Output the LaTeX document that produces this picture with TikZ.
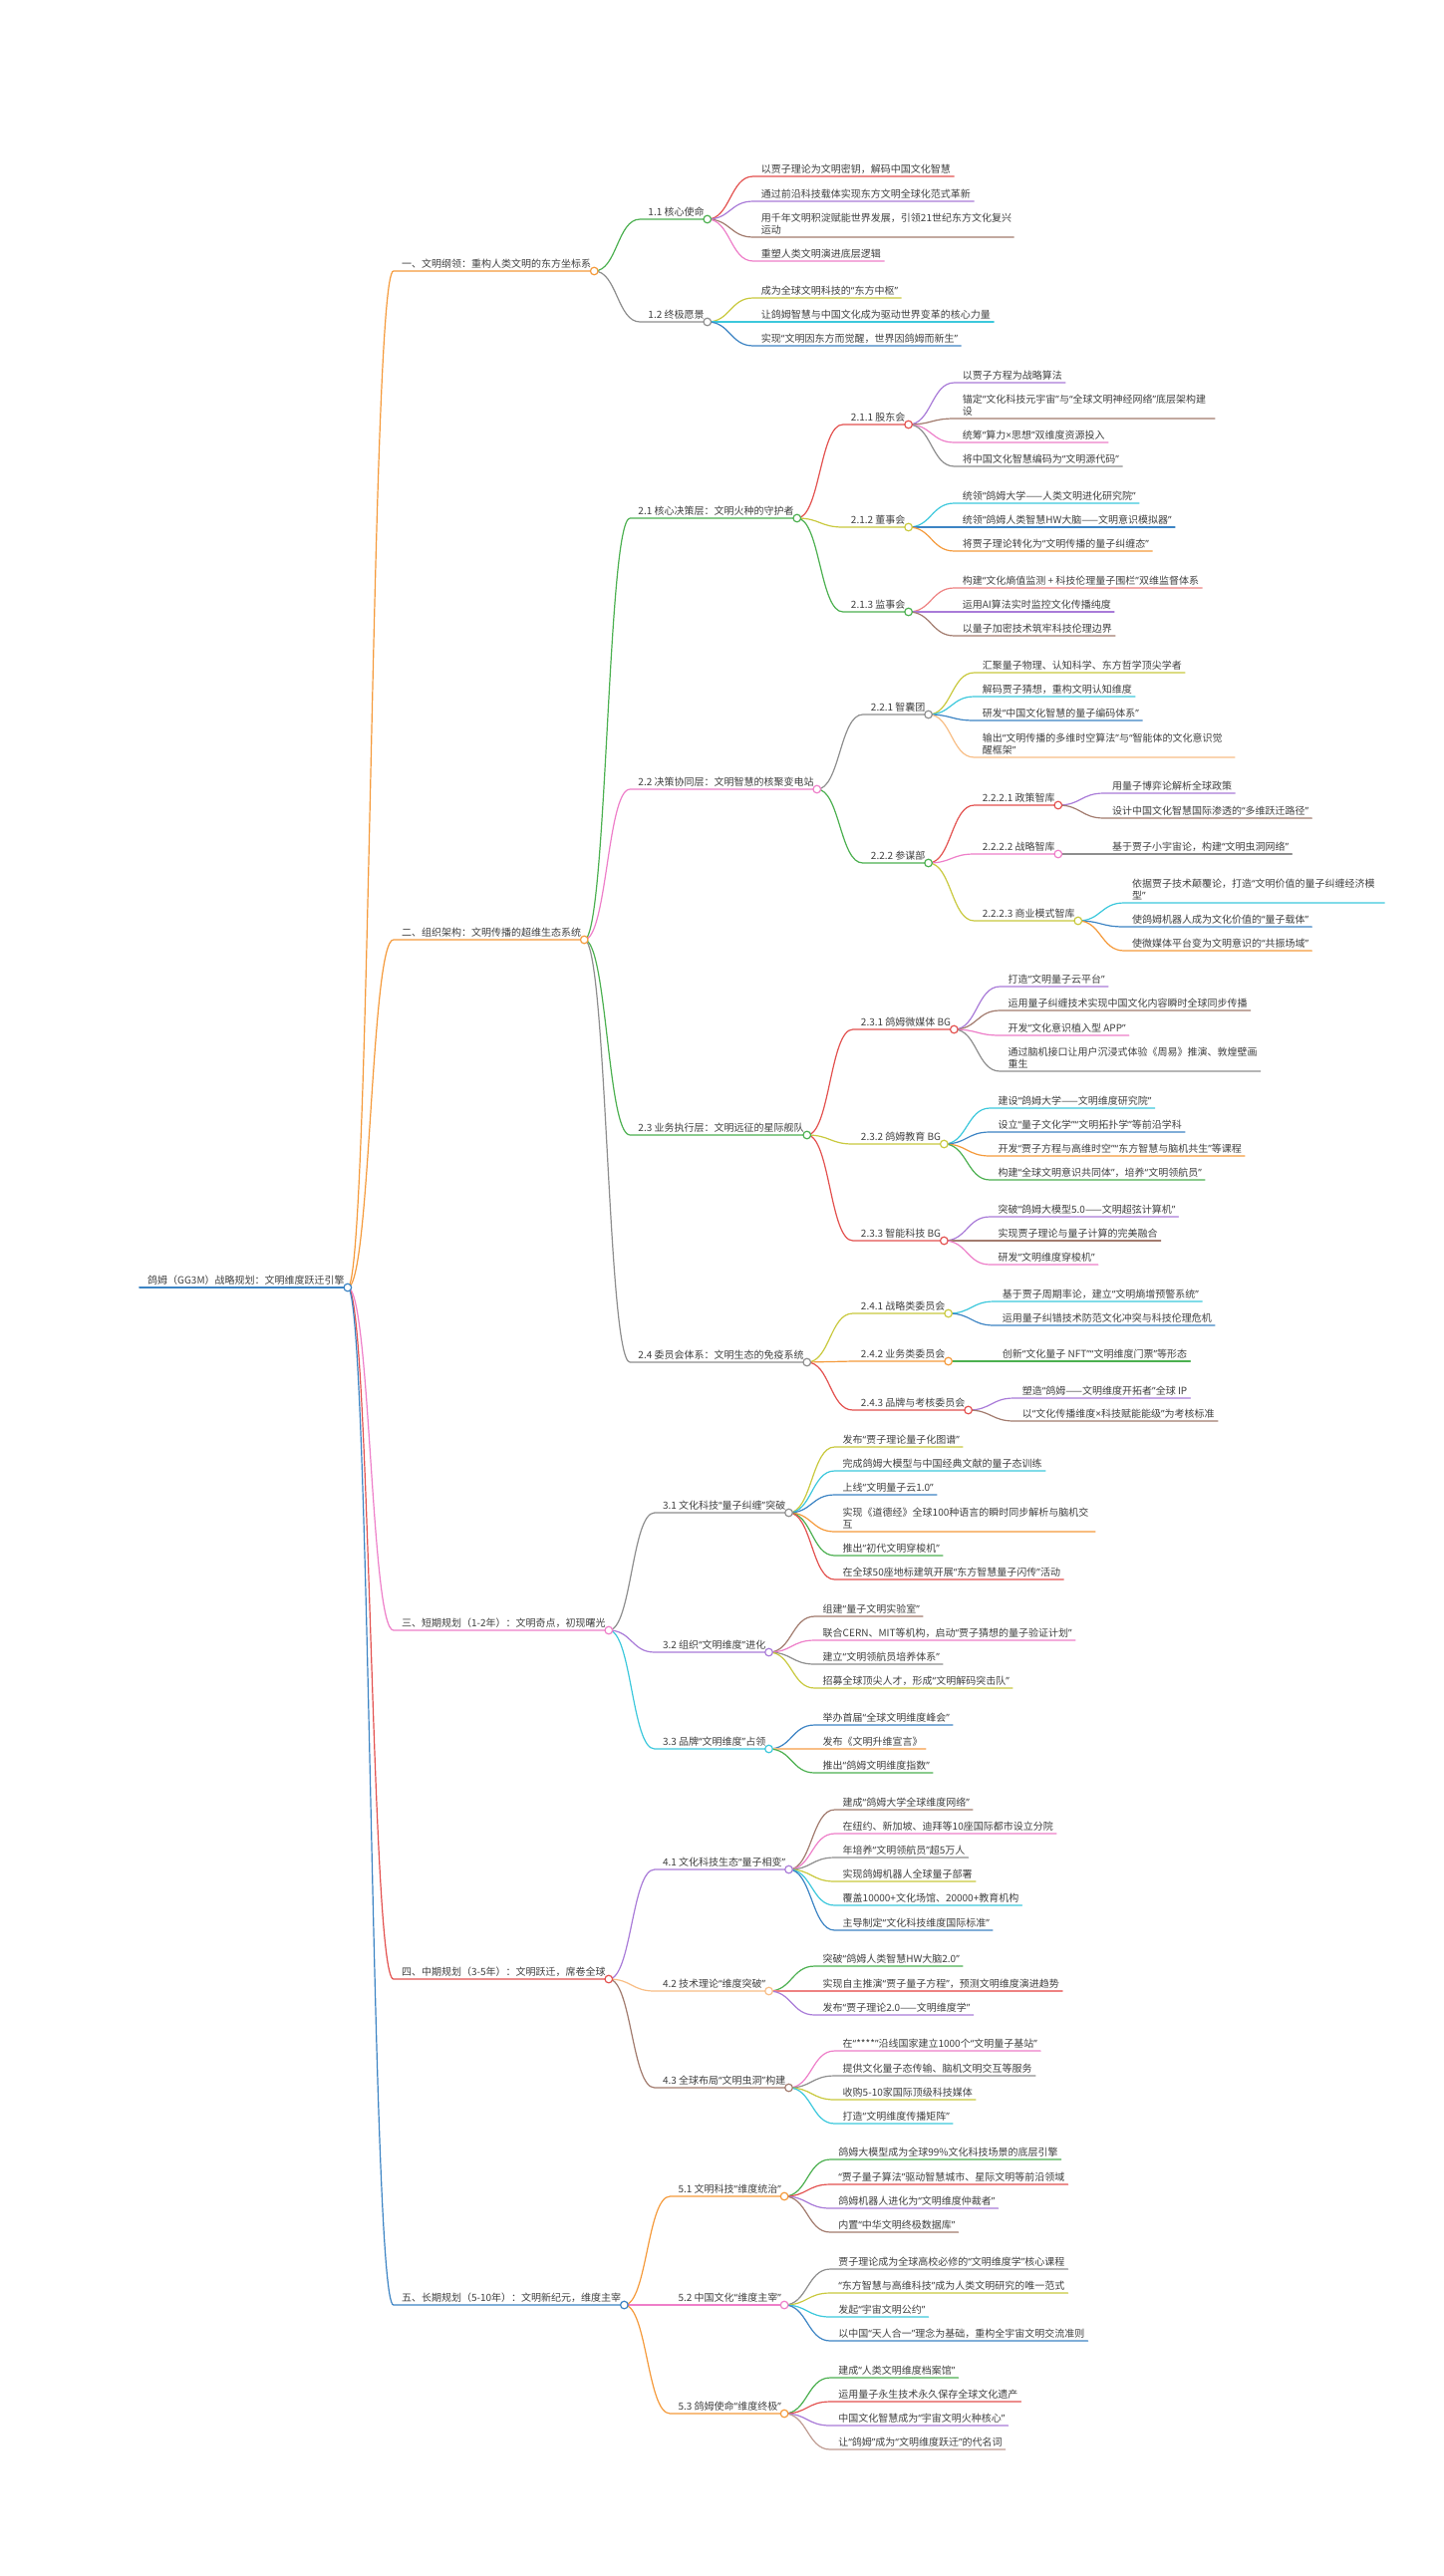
\documentclass[tikz,border=0pt]{standalone}
\usepackage{fontspec}
\setmainfont{Noto Sans CJK SC}
\newfontfamily\qfont{Noto Sans}
\usetikzlibrary{calc}
\definecolor{txt}{HTML}{404040}
\definecolor{corange}{HTML}{F59A3B}
\definecolor{cred}{HTML}{E3514F}
\definecolor{clred}{HTML}{EE8282}
\definecolor{cgreen}{HTML}{4CB050}
\definecolor{cpurple}{HTML}{A97BD8}
\definecolor{cbrown}{HTML}{A27B6E}
\definecolor{clbrown}{HTML}{BF9C92}
\definecolor{cpink}{HTML}{EE7FC9}
\definecolor{cgray}{HTML}{8E8E8E}
\definecolor{colive}{HTML}{C9C93E}
\definecolor{ccyan}{HTML}{3CC8DC}
\definecolor{cblue}{HTML}{3C84C4}
\definecolor{clorange}{HTML}{F8BE86}
\newcommand\oq{{\qfont “}}
\newcommand\cq{{\qfont ”}}
\newcommand\mmtimes{{\qfont ×}}
\tikzset{
  lbl/.style={anchor=south west, inner sep=0pt, text depth=0pt,
    font=\fontsize{10pt}{12pt}\selectfont, text=txt, align=left},
  branch/.style={line width=1.2pt, line cap=round, line join=round},
  wrapped/.style={text width=250pt, text depth=12pt},
}
% #1 name, #2 parent, #3 colour, #4 y of underline, #5 node options, #6 text
\newcommand\mmi[6]{%
  \coordinate (#1y) at (0,#4);
  \coordinate (#1s) at ($(#2e |- #1y)+(46,0)$);
  \node[lbl,#5] (#1) at ($(#1s)+(8,-3.5)$) {#6};
  \coordinate (#1t) at ($(#1.south east)+(3,0)$);
  \coordinate (#1e) at (#1t |- #1s);
  \draw[branch,#3] (#2e) .. controls +(23,0) and +(-23,0) .. (#1s) -- (#1e);
}
\newcommand\mmdot[2]{\draw[#2,line width=1.2pt,fill=white] (#1e) circle[radius=3.8pt];}
\begin{document}
\begin{tikzpicture}[x=1pt,y=-1pt]
\useasboundingbox (0,0) rectangle (1448,2585);
\fill[white] (0,0) rectangle (1448,2585);
% root
\coordinate (roots) at (140,1292);
\node[lbl] (root) at ($(roots)+(8,-3.5)$) {鸽姆（GG3M）战略规划：文明维度跃迁引擎};
\coordinate (roott) at ($(root.south east)+(3,0)$);
\coordinate (roote) at (roott |- roots);
\draw[cblue,line width=2pt,line cap=round] (roots) -- (roote);
% ---------- 一
\mmi{l1}{root}{corange}{272}{}{一、文明纲领：重构人类文明的东方坐标系}
\mmi{a1}{l1}{cgreen}{220}{}{1.1 核心使命}
\mmi{a1x1}{a1}{cred}{177}{}{以贾子理论为文明密钥，解码中国文化智慧}
\mmi{a1x2}{a1}{cpurple}{202}{}{通过前沿科技载体实现东方文明全球化范式革新}
\mmi{a1x3}{a1}{cbrown}{238}{wrapped}{用千年文明积淀赋能世界发展，引领21世纪东方文化复兴\\运动}
\mmi{a1x4}{a1}{cpink}{262}{}{重塑人类文明演进底层逻辑}
\mmi{a2}{l1}{cgray}{323}{}{1.2 终极愿景}
\mmi{a2x1}{a2}{colive}{299}{}{成为全球文明科技的\oq 东方中枢\cq}
\mmi{a2x2}{a2}{ccyan}{323}{}{让鸽姆智慧与中国文化成为驱动世界变革的核心力量}
\mmi{a2x3}{a2}{cblue}{347}{}{实现\oq 文明因东方而觉醒，世界因鸽姆而新生\cq}
% ---------- 二
\mmi{l2}{root}{corange}{943}{}{二、组织架构：文明传播的超维生态系统}
\mmi{b1}{l2}{cgreen}{520}{}{2.1 核心决策层：文明火种的守护者}
\mmi{b11}{b1}{cred}{426}{}{2.1.1 股东会}
\mmi{b11x1}{b11}{cpurple}{384}{}{以贾子方程为战略算法}
\mmi{b11x2}{b11}{cbrown}{420}{wrapped}{锚定\oq 文化科技元宇宙\cq 与\oq 全球文明神经网络\cq 底层架构建\\设}
\mmi{b11x3}{b11}{cpink}{444}{}{统筹\oq 算力\mmtimes 思想\cq 双维度资源投入}
\mmi{b11x4}{b11}{cgray}{468}{}{将中国文化智慧编码为\oq 文明源代码\cq}
\mmi{b12}{b1}{colive}{529}{}{2.1.2 董事会}
\mmi{b12x1}{b12}{ccyan}{505}{}{统领\oq 鸽姆大学——人类文明进化研究院\cq}
\mmi{b12x2}{b12}{cblue}{529}{}{统领\oq 鸽姆人类智慧HW大脑——文明意识模拟器\cq}
\mmi{b12x3}{b12}{corange}{553}{}{将贾子理论转化为\oq 文明传播的量子纠缠态\cq}
\mmi{b13}{b1}{cgreen}{614}{}{2.1.3 监事会}
\mmi{b13x1}{b13}{clred}{590}{}{构建\oq 文化熵值监测 + 科技伦理量子围栏\cq 双维监督体系}
\mmi{b13x2}{b13}{cpurple}{614}{}{运用AI算法实时监控文化传播纯度}
\mmi{b13x3}{b13}{cbrown}{638}{}{以量子加密技术筑牢科技伦理边界}
\mmi{b2}{l2}{cpink}{792}{}{2.2 决策协同层：文明智慧的核聚变电站}
\mmi{b21}{b2}{cgray}{717}{}{2.2.1 智囊团}
\mmi{b21x1}{b21}{colive}{675}{}{汇聚量子物理、认知科学、东方哲学顶尖学者}
\mmi{b21x2}{b21}{ccyan}{699}{}{解码贾子猜想，重构文明认知维度}
\mmi{b21x3}{b21}{cblue}{723}{}{研发\oq 中国文化智慧的量子编码体系\cq}
\mmi{b21x4}{b21}{clorange}{760}{wrapped}{输出\oq 文明传播的多维时空算法\cq 与\oq 智能体的文化意识觉\\醒框架\cq}
\mmi{b22}{b2}{cgreen}{866}{}{2.2.2 参谋部}
\mmi{b221}{b22}{cred}{808}{}{2.2.2.1 政策智库}
\mmi{b221x1}{b221}{cpurple}{796}{}{用量子博弈论解析全球政策}
\mmi{b221x2}{b221}{cbrown}{821}{}{设计中国文化智慧国际渗透的\oq 多维跃迁路径\cq}
\mmi{b222}{b22}{cpink}{857}{}{2.2.2.2 战略智库}
\mmi{b222x1}{b222}{cgray}{857}{}{基于贾子小宇宙论，构建\oq 文明虫洞网络\cq}
\mmi{b223}{b22}{colive}{924}{}{2.2.2.3 商业模式智库}
\mmi{b223x1}{b223}{ccyan}{906}{wrapped}{依据贾子技术颠覆论，打造\oq 文明价值的量子纠缠经济模\\型\cq}
\mmi{b223x2}{b223}{cblue}{930}{}{使鸽姆机器人成为文化价值的\oq 量子载体\cq}
\mmi{b223x3}{b223}{corange}{954}{}{使微媒体平台变为文明意识的\oq 共振场域\cq}
\mmi{b3}{l2}{cgreen}{1139}{}{2.3 业务执行层：文明远征的星际舰队}
\mmi{b31}{b3}{cred}{1033}{}{2.3.1 鸽姆微媒体 BG}
\mmi{b31x1}{b31}{cpurple}{990}{}{打造\oq 文明量子云平台\cq}
\mmi{b31x2}{b31}{cbrown}{1014}{}{运用量子纠缠技术实现中国文化内容瞬时全球同步传播}
\mmi{b31x3}{b31}{cpink}{1039}{}{开发\oq 文化意识植入型 APP\cq}
\mmi{b31x4}{b31}{cgray}{1075}{wrapped}{通过脑机接口让用户沉浸式体验《周易》推演、敦煌壁画\\重生}
\mmi{b32}{b3}{colive}{1148}{}{2.3.2 鸽姆教育 BG}
\mmi{b32x1}{b32}{ccyan}{1112}{}{建设\oq 鸽姆大学——文明维度研究院\cq}
\mmi{b32x2}{b32}{cblue}{1136}{}{设立\oq 量子文化学\cq\oq 文明拓扑学\cq 等前沿学科}
\mmi{b32x3}{b32}{corange}{1160}{}{开发\oq 贾子方程与高维时空\cq\oq 东方智慧与脑机共生\cq 等课程}
\mmi{b32x4}{b32}{cgreen}{1184}{}{构建\oq 全球文明意识共同体\cq ，培养\oq 文明领航员\cq}
\mmi{b33}{b3}{cred}{1245}{}{2.3.3 智能科技 BG}
\mmi{b33x1}{b33}{cpurple}{1221}{}{突破\oq 鸽姆大模型5.0——文明超弦计算机\cq}
\mmi{b33x2}{b33}{cbrown}{1245}{}{实现贾子理论与量子计算的完美融合}
\mmi{b33x3}{b33}{cpink}{1269}{}{研发\oq 文明维度穿梭机\cq}
\mmi{b4}{l2}{cgray}{1367}{}{2.4 委员会体系：文明生态的免疫系统}
\mmi{b41}{b4}{colive}{1318}{}{2.4.1 战略类委员会}
\mmi{b41x1}{b41}{ccyan}{1306}{}{基于贾子周期率论，建立\oq 文明熵增预警系统\cq}
\mmi{b41x2}{b41}{cblue}{1330}{}{运用量子纠错技术防范文化冲突与科技伦理危机}
\mmi{b42}{b4}{corange}{1366}{}{2.4.2 业务类委员会}
\mmi{b42x1}{b42}{cgreen}{1366}{}{创新\oq 文化量子 NFT\cq\oq 文明维度门票\cq 等形态}
\mmi{b43}{b4}{cred}{1415}{}{2.4.3 品牌与考核委员会}
\mmi{b43x1}{b43}{cpurple}{1403}{}{塑造\oq 鸽姆——文明维度开拓者\cq 全球 IP}
\mmi{b43x2}{b43}{cbrown}{1426}{}{以\oq 文化传播维度\mmtimes 科技赋能能级\cq 为考核标准}
% ---------- 三
\mmi{l3}{root}{cpink}{1636}{}{三、短期规划（1-2年）：文明奇点，初现曙光}
\mmi{c1}{l3}{cgray}{1518}{}{3.1 文化科技\oq 量子纠缠\cq 突破}
\mmi{c1x1}{c1}{colive}{1452}{}{发布\oq 贾子理论量子化图谱\cq}
\mmi{c1x2}{c1}{ccyan}{1476}{}{完成鸽姆大模型与中国经典文献的量子态训练}
\mmi{c1x3}{c1}{cblue}{1500}{}{上线\oq 文明量子云1.0\cq}
\mmi{c1x4}{c1}{corange}{1537}{wrapped}{实现《道德经》全球100种语言的瞬时同步解析与脑机交\\互}
\mmi{c1x5}{c1}{cgreen}{1561}{}{推出\oq 初代文明穿梭机\cq}
\mmi{c1x6}{c1}{cred}{1585}{}{在全球50座地标建筑开展\oq 东方智慧量子闪传\cq 活动}
\mmi{c2}{l3}{cpurple}{1658}{}{3.2 组织\oq 文明维度\cq 进化}
\mmi{c2x1}{c2}{cbrown}{1622}{}{组建\oq 量子文明实验室\cq}
\mmi{c2x2}{c2}{cpink}{1646}{}{联合CERN、MIT等机构，启动\oq 贾子猜想的量子验证计划\cq}
\mmi{c2x3}{c2}{cgray}{1670}{}{建立\oq 文明领航员培养体系\cq}
\mmi{c2x4}{c2}{colive}{1694}{}{招募全球顶尖人才，形成\oq 文明解码突击队\cq}
\mmi{c3}{l3}{ccyan}{1755}{}{3.3 品牌\oq 文明维度\cq 占领}
\mmi{c3x1}{c3}{cblue}{1731}{}{举办首届\oq 全球文明维度峰会\cq}
\mmi{c3x2}{c3}{clorange}{1755}{}{发布《文明升维宣言》}
\mmi{c3x3}{c3}{cgreen}{1779}{}{推出\oq 鸽姆文明维度指数\cq}
% ---------- 四
\mmi{l4}{root}{cred}{1986}{}{四、中期规划（3-5年）：文明跃迁，席卷全球}
\mmi{d1}{l4}{cpurple}{1876}{}{4.1 文化科技生态\oq 量子相变\cq}
\mmi{d1x1}{d1}{cbrown}{1816}{}{建成\oq 鸽姆大学全球维度网络\cq}
\mmi{d1x2}{d1}{cpink}{1840}{}{在纽约、新加坡、迪拜等10座国际都市设立分院}
\mmi{d1x3}{d1}{cgray}{1864}{}{年培养\oq 文明领航员\cq 超5万人}
\mmi{d1x4}{d1}{colive}{1888}{}{实现鸽姆机器人全球量子部署}
\mmi{d1x5}{d1}{ccyan}{1912}{}{覆盖10000+文化场馆、20000+教育机构}
\mmi{d1x6}{d1}{cblue}{1937}{}{主导制定\oq 文化科技维度国际标准\cq}
\mmi{d2}{l4}{clorange}{1998}{}{4.2 技术理论\oq 维度突破\cq}
\mmi{d2x1}{d2}{cgreen}{1973}{}{突破\oq 鸽姆人类智慧HW大脑2.0\cq}
\mmi{d2x2}{d2}{clred}{1998}{}{实现自主推演\oq 贾子量子方程\cq ，预测文明维度演进趋势}
\mmi{d2x3}{d2}{cpurple}{2022}{}{发布\oq 贾子理论2.0——文明维度学\cq}
\mmi{d3}{l4}{cbrown}{2095}{}{4.3 全球布局\oq 文明虫洞\cq 构建}
\mmi{d3x1}{d3}{cpink}{2058}{}{在\oq ****\cq 沿线国家建立1000个\oq 文明量子基站\cq}
\mmi{d3x2}{d3}{cgray}{2083}{}{提供文化量子态传输、脑机文明交互等服务}
\mmi{d3x3}{d3}{colive}{2107}{}{收购5-10家国际顶级科技媒体}
\mmi{d3x4}{d3}{ccyan}{2131}{}{打造\oq 文明维度传播矩阵\cq}
% ---------- 五
\mmi{l5}{root}{cblue}{2313}{}{五、长期规划（5-10年）：文明新纪元，维度主宰}
\mmi{e1}{l5}{corange}{2204}{}{5.1 文明科技\oq 维度统治\cq}
\mmi{e1x1}{e1}{cgreen}{2167}{}{鸽姆大模型成为全球99\%文化科技场景的底层引擎}
\mmi{e1x2}{e1}{cred}{2192}{}{\oq 贾子量子算法\cq 驱动智慧城市、星际文明等前沿领域}
\mmi{e1x3}{e1}{cpurple}{2216}{}{鸽姆机器人进化为\oq 文明维度仲裁者\cq}
\mmi{e1x4}{e1}{cbrown}{2240}{}{内置\oq 中华文明终极数据库\cq}
\mmi{e2}{l5}{cpink}{2313}{}{5.2 中国文化\oq 维度主宰\cq}
\mmi{e2x1}{e2}{cgray}{2277}{}{贾子理论成为全球高校必修的\oq 文明维度学\cq 核心课程}
\mmi{e2x2}{e2}{colive}{2301}{}{\oq 东方智慧与高维科技\cq 成为人类文明研究的唯一范式}
\mmi{e2x3}{e2}{ccyan}{2325}{}{发起\oq 宇宙文明公约\cq}
\mmi{e2x4}{e2}{cblue}{2349}{}{以中国\oq 天人合一\cq 理念为基础，重构全宇宙文明交流准则}
\mmi{e3}{l5}{corange}{2422}{}{5.3 鸽姆使命\oq 维度终极\cq}
\mmi{e3x1}{e3}{cgreen}{2386}{}{建成\oq 人类文明维度档案馆\cq}
\mmi{e3x2}{e3}{cred}{2410}{}{运用量子永生技术永久保存全球文化遗产}
\mmi{e3x3}{e3}{cpurple}{2434}{}{中国文化智慧成为\oq 宇宙文明火种核心\cq}
\mmi{e3x4}{e3}{clbrown}{2458}{}{让\oq 鸽姆\cq 成为\oq 文明维度跃迁\cq 的代名词}
% ---------- dots
\mmdot{root}{cblue}
\mmdot{l1}{corange}\mmdot{l2}{corange}\mmdot{l3}{cpink}\mmdot{l4}{cred}\mmdot{l5}{cblue}
\mmdot{a1}{cgreen}\mmdot{a2}{cgray}
\mmdot{b1}{cgreen}\mmdot{b2}{cpink}\mmdot{b3}{cgreen}\mmdot{b4}{cgray}
\mmdot{b11}{cred}\mmdot{b12}{colive}\mmdot{b13}{cgreen}
\mmdot{b21}{cgray}\mmdot{b22}{cgreen}
\mmdot{b221}{cred}\mmdot{b222}{cpink}\mmdot{b223}{colive}
\mmdot{b31}{cred}\mmdot{b32}{colive}\mmdot{b33}{cred}
\mmdot{b41}{colive}\mmdot{b42}{corange}\mmdot{b43}{cred}
\mmdot{c1}{cgray}\mmdot{c2}{cpurple}\mmdot{c3}{ccyan}
\mmdot{d1}{cpurple}\mmdot{d2}{clorange}\mmdot{d3}{cbrown}
\mmdot{e1}{corange}\mmdot{e2}{cpink}\mmdot{e3}{corange}
\end{tikzpicture}
\end{document}
